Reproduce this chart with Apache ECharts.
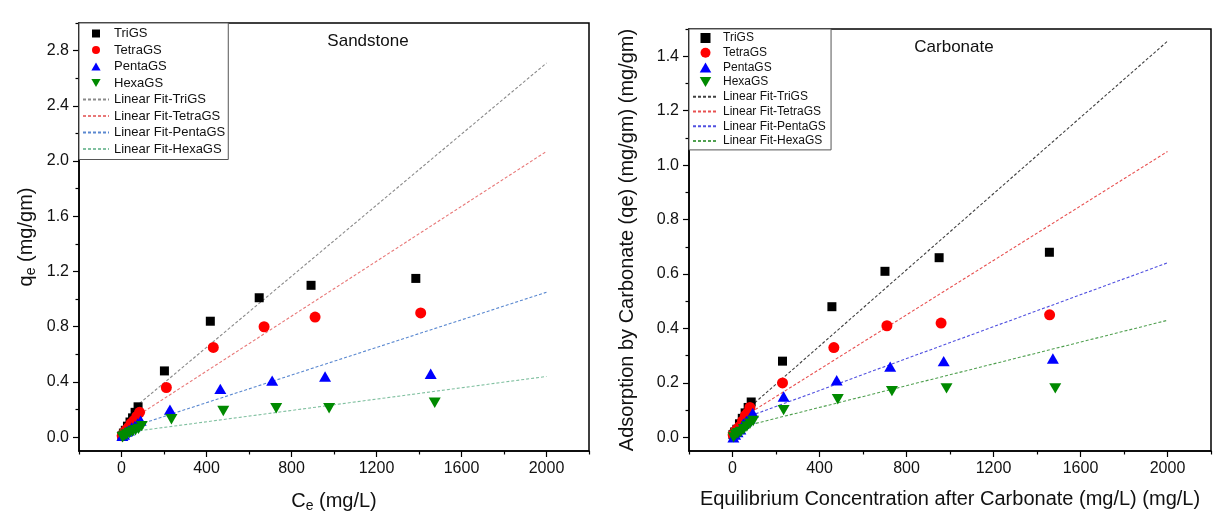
<!DOCTYPE html>
<html><head><meta charset="utf-8">
<script src="https://cdn.jsdelivr.net/npm/echarts@6/dist/echarts.min.js"></script>
<style>html,body{margin:0;padding:0;background:#fff}#c{width:1225px;height:519px}</style>
</head><body><div id="c"></div>
<script>
// ---------- data ----------
const seriesNames = ['TriGS', 'TetraGS', 'PentaGS', 'HexaGS'];
const fitNames = ['Linear Fit-TriGS', 'Linear Fit-TetraGS', 'Linear Fit-PentaGS', 'Linear Fit-HexaGS'];

// Sandstone (left)
const sandTriX   = [2, 9, 18, 28, 40, 52, 64, 78, 202, 418, 648, 892, 1385];
const sandTriY   = [0.01, 0.03, 0.05, 0.08, 0.11, 0.14, 0.18, 0.22, 0.48, 0.84, 1.01, 1.10, 1.15];
const sandTetraX = [3, 11, 21, 32, 45, 58, 72, 85, 211, 432, 671, 911, 1408];
const sandTetraY = [0.01, 0.03, 0.05, 0.07, 0.10, 0.12, 0.15, 0.18, 0.36, 0.65, 0.80, 0.87, 0.90];
const sandPentaX = [4, 12, 23, 35, 48, 62, 76, 90, 228, 465, 709, 958, 1455];
const sandPentaY = [0.01, 0.02, 0.04, 0.05, 0.07, 0.08, 0.10, 0.12, 0.20, 0.35, 0.41, 0.44, 0.46];
const sandHexaX  = [5, 14, 25, 38, 52, 66, 80, 95, 235, 479, 728, 977, 1474];
const sandHexaY  = [0.00, 0.01, 0.02, 0.03, 0.04, 0.05, 0.06, 0.08, 0.13, 0.19, 0.21, 0.21, 0.25];

// Carbonate (right)
const carbTriX   = [2, 10, 20, 32, 45, 58, 72, 86, 230, 457, 701, 950, 1457];
const carbTriY   = [0.01, 0.02, 0.03, 0.05, 0.07, 0.09, 0.11, 0.13, 0.28, 0.48, 0.61, 0.66, 0.68];
const carbTetraX = [3, 11, 21, 33, 46, 59, 70, 80, 230, 466, 710, 959, 1458];
const carbTetraY = [0.01, 0.02, 0.03, 0.04, 0.06, 0.08, 0.09, 0.11, 0.20, 0.33, 0.41, 0.42, 0.45];
const carbPentaX = [4, 12, 23, 36, 50, 64, 79, 93, 235, 479, 725, 971, 1473];
const carbPentaY = [0.00, 0.01, 0.02, 0.03, 0.05, 0.06, 0.07, 0.09, 0.15, 0.21, 0.26, 0.28, 0.29];
const carbHexaX  = [5, 14, 25, 38, 52, 66, 80, 95, 235, 484, 733, 984, 1484];
const carbHexaY  = [0.00, 0.01, 0.015, 0.02, 0.03, 0.04, 0.05, 0.06, 0.10, 0.14, 0.17, 0.18, 0.18];

// Linear fit end points
const fitX = [85, 2000];
const sandFitTri = [0.245, 2.71], sandFitTetra = [0.165, 2.07], sandFitPenta = [0.0925, 1.05], sandFitHexa = [0.047, 0.44];
const carbFitTri = [0.115, 1.455], carbFitTetra = [0.0925, 1.05], carbFitPenta = [0.08, 0.641], carbFitHexa = [0.047, 0.43];

// tick labels
const xTicks = [0, 400, 800, 1200, 1600, 2000];
const xMinor = [-200, 200, 600, 1000, 1400, 1800, 2200];
const sandYTicks = [0, 0.4, 0.8, 1.2, 1.6, 2.0, 2.4, 2.8];
const sandYMinor = [0.2, 0.6, 1.0, 1.4, 1.8, 2.2, 2.6, 3.0];
const carbYTicks = [0, 0.2, 0.4, 0.6, 0.8, 1.0, 1.2, 1.4];
const carbYMinor = [0.1, 0.3, 0.5, 0.7, 0.9, 1.1, 1.3, 1.5];

// ---------- styling ----------
const FONT = 'Liberation Sans';
const markerColors = ['#000000', '#ff0000', '#0000ff', '#008a00'];
const SQUARE = 'path://M0,0L10,0L10,10L0,10Z';
const TRI_UP = 'path://M5,0L10,8.66L0,8.66Z';
const TRI_DN = 'path://M0,0L10,0L5,8.66Z';
const markerSymbols = [SQUARE, 'circle', TRI_UP, TRI_DN];
const markerSizes = [9, 11, [12, 10.4], [12, 10.4]];
const sandFitColors = ['#8a8a8a', '#e87878', '#5a88d0', '#80c0a0'];
const carbFitColors = ['#404040', '#e85050', '#5050e0', '#50a050'];

const zip = (xs, ys) => xs.map((x, i) => [x, ys[i]]);
const tickLine = { color: '#000', width: 1.2 };

function axesFor(kind, grid, min, max, ticks, minor, fmt) {
  const pos = kind === 'x' ? 'bottom' : 'left';
  return [
    { type: 'value', gridIndex: grid, min: min, max: max, position: pos,
      axisLine: { show: true, onZero: false, lineStyle: { color: '#000', width: 1.5 } },
      axisTick: { show: false },
      axisLabel: { show: true, customValues: ticks, margin: 10, fontFamily: FONT, fontSize: 16, color: '#111', formatter: fmt },
      splitLine: { show: false } },
    { type: 'value', gridIndex: grid, min: min, max: max, position: pos,
      axisLine: { show: false, onZero: false },
      axisTick: { show: true, inside: false, length: 6, customValues: ticks, lineStyle: tickLine },
      axisLabel: { show: false }, splitLine: { show: false } },
    { type: 'value', gridIndex: grid, min: min, max: max, position: pos,
      axisLine: { show: false, onZero: false },
      axisTick: { show: true, inside: false, length: 3.5, customValues: minor, lineStyle: tickLine },
      axisLabel: { show: false }, splitLine: { show: false } }
  ];
}
const fmtX = v => String(v);
const fmtY = v => v.toFixed(1);

const xa = axesFor('x', 0, -200, 2200, xTicks, xMinor, fmtX).concat(axesFor('x', 1, -200, 2200, xTicks, xMinor, fmtX));
const ya = axesFor('y', 0, -0.1, 3.0, sandYTicks, sandYMinor, fmtY).concat(axesFor('y', 1, -0.05, 1.5, carbYTicks, carbYMinor, fmtY));

const richName = { a: { fontFamily: FONT, fontSize: 20, color: '#111', lineHeight: 24 },
                   s: { fontFamily: FONT, fontSize: 14, color: '#111', lineHeight: 24, verticalAlign: 'bottom', padding: [10, 0, 0, 0] } };
xa[0].name = '{a|C}{s|e}{a| (mg/L)}';
xa[3].name = 'Equilibrium Concentration after Carbonate (mg/L) (mg/L)';
[0, 3].forEach(i => {
  xa[i].nameLocation = 'middle';
  xa[i].nameGap = 38;
  xa[i].nameTextStyle = { fontFamily: FONT, fontSize: 20, color: '#111', rich: richName };
});
ya[0].name = '{a|q}{s|e}{a| (mg/gm)}';
ya[0].nameGap = 41;
ya[3].name = 'Adsorption by Carbonate (qe) (mg/gm) (mg/gm)';
ya[3].nameGap = 52;
[0, 3].forEach(i => {
  ya[i].nameLocation = 'middle';
  ya[i].nameRotate = 90;
  ya[i].nameTextStyle = { fontFamily: FONT, fontSize: 20, color: '#111', rich: richName };
});

const sandSets = [zip(sandTriX, sandTriY), zip(sandTetraX, sandTetraY), zip(sandPentaX, sandPentaY), zip(sandHexaX, sandHexaY)];
const carbSets = [zip(carbTriX, carbTriY), zip(carbTetraX, carbTetraY), zip(carbPentaX, carbPentaY), zip(carbHexaX, carbHexaY)];
const sandFits = [sandFitTri, sandFitTetra, sandFitPenta, sandFitHexa].map(f => zip(fitX, f));
const carbFits = [carbFitTri, carbFitTetra, carbFitPenta, carbFitHexa].map(f => zip(fitX, f));

const series = [];
function addPanel(sets, fits, fitColors, ai, suffix) {
  fits.forEach((d, k) => series.push({
    type: 'line', name: fitNames[k] + suffix, xAxisIndex: ai, yAxisIndex: ai, data: d,
    symbol: 'none', silent: true, z: 2,
    lineStyle: { color: fitColors[k], width: 1.1, type: [3, 2] }, itemStyle: { color: fitColors[k] }
  }));
  sets.forEach((d, k) => series.push({
    type: 'scatter', name: seriesNames[k] + suffix, xAxisIndex: ai, yAxisIndex: ai, data: d,
    symbol: markerSymbols[k], symbolSize: markerSizes[k], z: 3,
    itemStyle: { color: markerColors[k], opacity: 1 }
  }));
}
addPanel(sandSets, sandFits, sandFitColors, 0, '');
addPanel(carbSets, carbFits, carbFitColors, 3, ' ');

const legendData = suffix => seriesNames.map(n => ({ name: n + suffix }))
  .concat(fitNames.map(n => ({ name: n + suffix, itemStyle: { opacity: 0 } })));

const option = {
  animation: false,
  backgroundColor: '#ffffff',
  grid: [
    { left: 79, right: 636, top: 23, bottom: 68, show: true, borderColor: '#000', borderWidth: 1.5, backgroundColor: 'transparent' },
    { left: 689, right: 14, top: 29, bottom: 68, show: true, borderColor: '#000', borderWidth: 1.5, backgroundColor: 'transparent' }
  ],
  title: [
    { text: 'Sandstone', left: 363, top: 28, textAlign: 'center', textStyle: { fontFamily: FONT, fontSize: 17, fontWeight: 'normal', color: '#111' } },
    { text: 'Carbonate', left: 949, top: 34, textAlign: 'center', textStyle: { fontFamily: FONT, fontSize: 17, fontWeight: 'normal', color: '#111' } }
  ],
  legend: [
    { left: 79, top: 23, orient: 'vertical', data: legendData(''), itemWidth: 26, itemHeight: 8, itemGap: 3.5,
      padding: [4, 3, 4, 3], borderColor: '#555', borderWidth: 1, backgroundColor: '#fff', symbolKeepAspect: true,
      textStyle: { fontFamily: FONT, fontSize: 13, color: '#111' }, selectedMode: false },
    { left: 689, top: 29, orient: 'vertical', data: legendData(' '), itemWidth: 25, itemHeight: 10, itemGap: 2.7,
      padding: [3, 2, 3, 3], borderColor: '#555', borderWidth: 1, backgroundColor: '#fff', symbolKeepAspect: true,
      textStyle: { fontFamily: FONT, fontSize: 12, color: '#111' }, selectedMode: false }
  ],
  xAxis: xa,
  yAxis: ya,
  series: series
};
const chart = echarts.init(document.getElementById('c'), null, { renderer: 'canvas' });
chart.setOption(option);
</script></body></html>
